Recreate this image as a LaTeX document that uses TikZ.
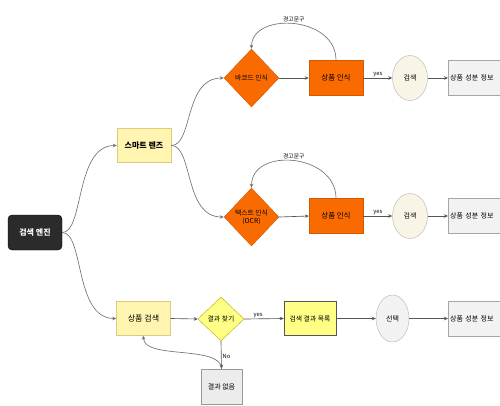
\documentclass[tikz,border=0pt]{standalone}
\usepackage{fontspec}
\setmainfont{Noto Sans CJK KR}
\usetikzlibrary{shapes.geometric,arrows.meta}
\definecolor{engine}{HTML}{2B2B2B}
\definecolor{paleyel}{HTML}{FFF4B0}
\definecolor{paleyelb}{HTML}{DCCB7A}
\definecolor{brightyel}{HTML}{FFFF85}
\definecolor{brightyelb}{HTML}{B8A800}
\definecolor{orng}{HTML}{F96B00}
\definecolor{orngb}{HTML}{D45A00}
\definecolor{cream}{HTML}{F8F5E6}
\definecolor{lgray}{HTML}{F2F2F2}
\definecolor{mgray}{HTML}{ECECEC}
\definecolor{edgec}{HTML}{555555}
\tikzset{
  every node/.style={font=\fontsize{7}{8}\selectfont},
  enginebox/.style={draw=black, fill=engine, rounded corners=4pt, minimum width=54pt, minimum height=35pt, text=white, font=\fontsize{8}{9}\selectfont\bfseries},
  palebox/.style={draw=paleyelb, fill=paleyel, minimum width=54pt, minimum height=34pt, font=\fontsize{8}{9}\selectfont},
  orangebox/.style={draw=orngb, fill=orng, minimum width=54pt, minimum height=35pt, font=\fontsize{7.5}{8.5}\selectfont},
  orangedia/.style={diamond, draw=orngb, fill=orng, minimum width=55pt, minimum height=58pt, inner sep=0pt, align=center, font=\fontsize{6.8}{8}\selectfont},
  yeldia/.style={diamond, draw=brightyelb, fill=brightyel, minimum width=46pt, minimum height=44pt, inner sep=0pt, font=\fontsize{6.8}{7.5}\selectfont},
  yelbox/.style={draw=edgec, fill=brightyel, minimum width=52pt, minimum height=34pt, font=\fontsize{6.8}{7.5}\selectfont},
  srchell/.style={ellipse, draw=black!30, fill=cream, minimum width=35pt, minimum height=45pt, inner sep=0pt},
  selell/.style={ellipse, draw=black!30, fill=lgray, minimum width=33pt, minimum height=47pt, inner sep=0pt},
  infobox/.style={draw=black!35, fill=lgray, anchor=west, text width=56pt, align=left, inner xsep=2pt, minimum height=35pt, font=\fontsize{7}{8}\selectfont},
  nonebox/.style={draw=black!40, fill=mgray, minimum width=41pt, minimum height=35pt},
  conn/.style={draw=edgec, line width=0.65pt, -{Stealth[length=4pt,width=3.5pt]}},
  curv/.style={conn, draw=black!55},
  lbl/.style={font=\fontsize{5.8}{6.5}\selectfont, inner sep=1pt},
}
\begin{document}
\begin{tikzpicture}[x=1pt,y=-1pt]
\useasboundingbox (0,0) rectangle (500,405);
\clip (0,0) rectangle (500,405);
\fill[white] (0,0) rectangle (500,405);

\node[enginebox] (eng) at (35,232.5) {검색 엔진};
\node[palebox, font=\fontsize{8}{9}\selectfont\bfseries] (lens) at (144,145.5) {스마트 렌즈};
\node[palebox] (prod) at (143.5,318.5) {상품 검색};

% row 1
\node[orangedia] (d1) at (251.5,78) {바코드 인식};
\node[orangebox] (r1) at (336,78) {상품 인식};
\node[srchell] (s1) at (410,78) {검색};
\node[infobox] (i1) at (448,78) {상품 성분 정보};

% row 2
\node[orangedia] (d2) at (251.5,217) {텍스트 인식\\(OCR)};
\node[orangebox] (r2) at (336,216) {상품 인식};
\node[srchell] (s2) at (410,216) {검색};
\node[infobox] (i2) at (448,216) {상품 성분 정보};

% row 3
\node[yeldia] (d3) at (221,319) {결과 찾기};
\node[yelbox] (lst) at (310,318.5) {검색 결과 목록};
\node[selell] (sel) at (392.5,318.5) {선택};
\node[infobox] (i3) at (448,318.5) {상품 성분 정보};
\node[nonebox] (none) at (221.5,386.5) {결과 없음};

% connectors
\draw[curv] (eng.east) .. controls +(22,0) and +(-42,0) .. (lens.west);
\draw[curv] (eng.east) .. controls +(22,0) and +(-42,0) .. (prod.west);
\draw[curv] (lens.east) .. controls +(22,0) and +(-40,0) .. (d1.west);
\draw[curv] (lens.east) .. controls +(22,0) and +(-40,0) .. (d2.west);

\draw[conn] (d1.east) -- (r1.west);
\draw[conn] (r1.east) -- node[lbl, above] {yes} (s1.west);
\draw[conn] (s1.east) -- (i1.west);
\draw[curv] (r1.north) .. controls +(0,-45) and +(0,-37) .. node[lbl, above=1pt] {경고문구} (d1.north);

\draw[conn] (d2.east) -- (r2.west);
\draw[conn] (r2.east) -- node[lbl, above] {yes} (s2.west);
\draw[conn] (s2.east) -- (i2.west);
\draw[curv] (r2.north) .. controls +(0,-45) and +(0,-41) .. node[lbl, above=1pt] {경고문구} (d2.north);

\draw[conn] (prod.east) -- (d3.west);
\draw[conn] (d3.east) -- node[lbl, above, pos=0.35] {yes} (lst.west);
\draw[conn] (lst.east) -- (sel.west);
\draw[conn] (sel.east) -- (i3.west);
\draw[conn] (d3.south) -- node[lbl, right, pos=0.55] {No} (none.north);
\draw[curv] (none.north) .. controls +(0,-24) and +(0,24) .. (prod.south);
\end{tikzpicture}
\end{document}
